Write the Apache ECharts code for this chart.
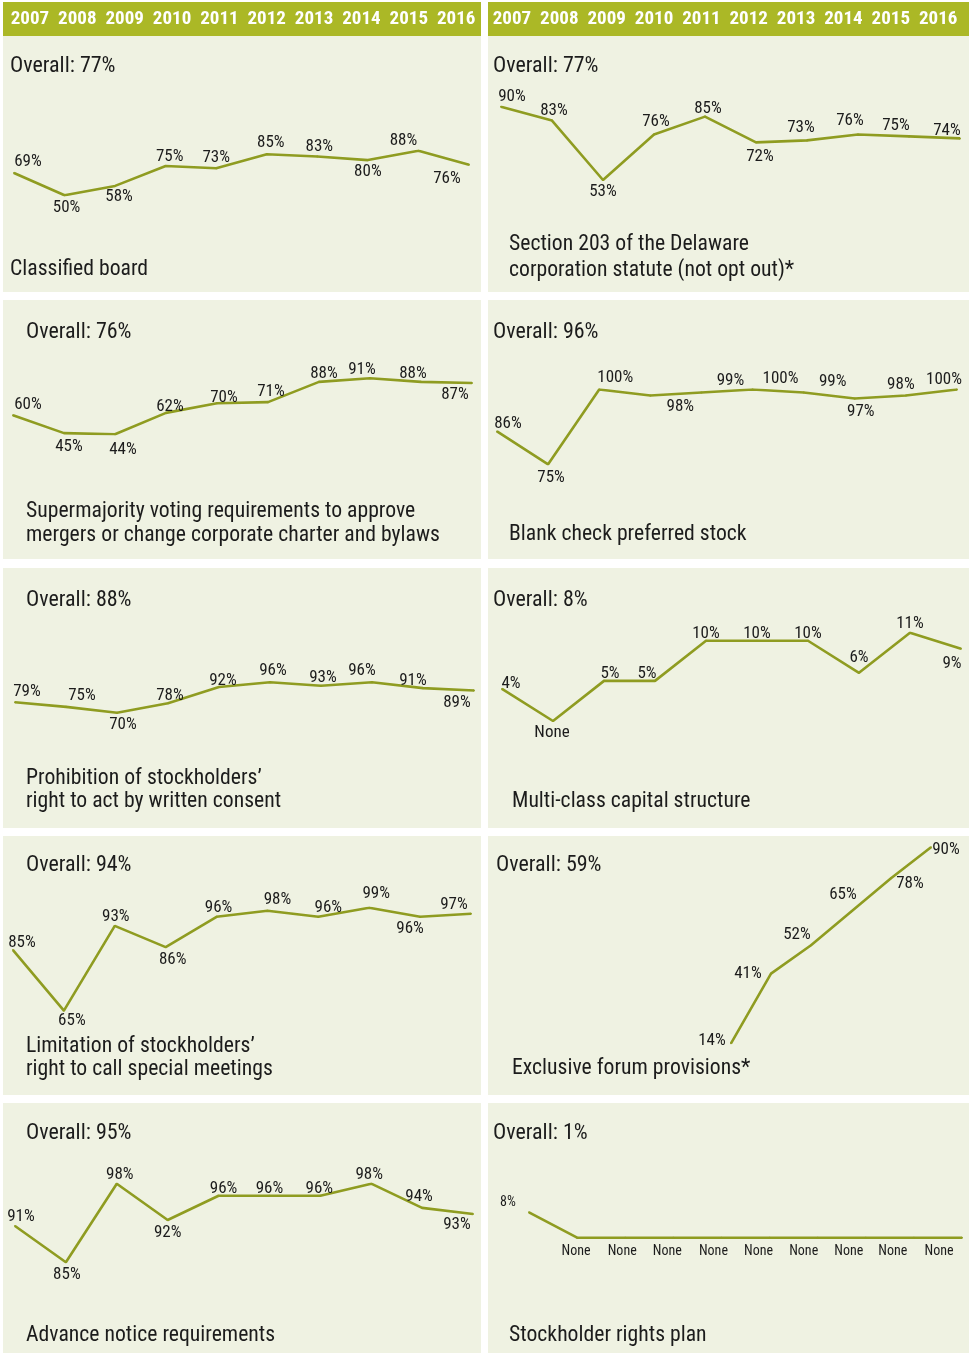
<!DOCTYPE html>
<html>
<head>
<meta charset="utf-8">
<script src="https://cdn.jsdelivr.net/npm/echarts@6/dist/echarts.min.js"></script>
<style>
  html, body { margin: 0; padding: 0; background: #ffffff; }
  #chart { width: 969px; height: 1353px; }
</style>
</head>
<body>
<div id="chart"></div>
<script>
// Adoption of takeover defences, 2007–2016 (share of companies, %)
const years = ['2007', '2008', '2009', '2010', '2011', '2012', '2013', '2014', '2015', '2016'];

const classifiedBoard   = [69, 50, 58, 75, 73, 85, 83, 80, 88, 76];
const section203        = [90, 83, 53, 76, 85, 72, 73, 76, 75, 74];
const supermajority     = [60, 45, 44, 62, 70, 71, 88, 91, 88, 87];
const blankCheck        = [86, 75, 100, 98, 99, 100, 99, 97, 98, 100];
const writtenConsent    = [79, 75, 70, 78, 92, 96, 93, 96, 91, 89];
const multiClass        = [4, 0, 5, 5, 10, 10, 10, 6, 11, 9];
const specialMeetings   = [85, 65, 93, 86, 96, 98, 96, 99, 96, 97];
const exclusiveForum    = [null, null, null, null, 14, 41, 52, 65, 78, 90];
const advanceNotice     = [91, 85, 98, 92, 96, 96, 96, 98, 94, 93];
const rightsPlan        = [8, 0, 0, 0, 0, 0, 0, 0, 0, 0];

const overall = [77, 77, 76, 96, 88, 8, 94, 59, 95, 1];

const provisionNames = [
  ['Classified board'],
  ['Section 203 of the Delaware', 'corporation statute (not opt out)*'],
  ['Supermajority voting requirements to approve', 'mergers or change corporate charter and bylaws'],
  ['Blank check preferred stock'],
  ['Prohibition of stockholders\u2019', 'right to act by written consent'],
  ['Multi-class capital structure'],
  ['Limitation of stockholders\u2019', 'right to call special meetings'],
  ['Exclusive forum provisions*'],
  ['Advance notice requirements'],
  ['Stockholder rights plan']
];

const seriesList = [classifiedBoard, section203, supermajority, blankCheck, writtenConsent,
                    multiClass, specialMeetings, exclusiveForum, advanceNotice, rightsPlan];

// ---- layout of the ten panels (pixel geometry and label placement) ----
const FONT = "'Liberation Sans Narrow', 'Roboto Condensed', 'DejaVu Sans Condensed', 'Liberation Sans', sans-serif";
const LINE = '#8f9c21';
const BAND = '#abb826';
const PANEL = '#eff2e2';
const INK = '#1c1c1c';
const TEXT_NUDGE = 2;   // optical centring of text on its cap height

const colX = [3, 488];
const colW = [478, 481];
const rowY = [[36, 292], [300, 559], [568, 828], [836, 1095], [1103, 1353]];

const panels = [
  { x0: 14,  x1: 469, top: 150.7, bot: 195.3, ov: [10, 64],   tx: 10,  ty: [268],
    lab: [[14,-13],[2,11],[4,9],[4,-11],[0,-12],[4,-13],[2,-11],[0,10],[-15,-11],[-22,12]] },
  { x0: 501, x1: 960, top: 106.7, bot: 180,   ov: [493, 64],  tx: 509, ty: [243, 269],
    lab: [[11,-11],[2,-11],[0,10],[2,-14],[3,-9],[4,13],[-6,-14],[-8,-15],[-13,-12],[-13,-9]] },
  { x0: 13,  x1: 472, top: 378.3, bot: 434.3, ov: [26, 330],  tx: 26,  ty: [510, 534],
    lab: [[15,-12],[5,12],[8,14],[4,-8],[7,-7],[3,-12],[5,-10],[-8,-10],[-8,-10],[-17,10]] },
  { x0: 497, x1: 957, top: 389.5, bot: 464.3, ov: [493, 330], tx: 509, ty: [533],
    lab: [[11,-9],[3,12],[16,-13],[30,10],[29,-13],[28,-12],[29,-12],[6,12],[-5,-12],[-13,-11]] },
  { x0: 15,  x1: 474, top: 682.3, bot: 712.7, ov: [26, 598],  tx: 26,  ty: [777, 800],
    lab: [[12,-12],[16,-13],[6,11],[2,-9],[4,-8],[3,-13],[2,-10],[-10,-13],[-10,-9],[-17,11]] },
  { x0: 502, x1: 961, top: 632.7, bot: 721,   ov: [493, 598], tx: 512, ty: [800],
    lab: [[9,-7],[-1,10],[6,-9],[-8,-9],[0,-8],[0,-8],[0,-8],[0,-17],[0,-10],[-9,13]] },
  { x0: 13,  x1: 471, top: 907.7, bot: 1010.7, ov: [26, 863], tx: 26,  ty: [1045, 1068],
    lab: [[9,-9],[8,9],[1,-11],[7,11],[2,-11],[10,-12],[10,-11],[7,-15],[-10,10],[-17,-11]] },
  { x0: 571, x1: 931, top: 847.3, bot: 1043.3, ov: [496, 863], tx: 512, ty: [1067],
    lab: [null,null,null,null,[-19,-4],[-23,-1],[-14,-12],[-8,-19],[19,4],[15,1]] },
  { x0: 15,  x1: 473, top: 1183.7, bot: 1262.3, ov: [26, 1131], tx: 26, ty: [1334],
    lab: [[6,-11],[1,11],[3,-10],[0,11],[5,-9],[0,-9],[-1,-9],[-2,-10],[-3,-13],[-16,9]] },
  { x0: 529, x1: 962, top: 1212.3, bot: 1237.7, ov: [493, 1131], tx: 509, ty: [1334], small: true,
    lab: [[-21,-11],[-1,12],[-3,12],[-6,12],[-8,12],[-11,12],[-14,12],[-17,12],[-21,12],[-23,12]] }
];

// ---- build option ----
const graphic = [];
const grid = [];
const xAxis = [];
const yAxis = [];
const series = [];

// header bands with the year axis
[0, 1].forEach(c => {
  graphic.push({ type: 'rect', z: -10, shape: { x: colX[c], y: 2, width: colW[c], height: 34 },
                 style: { fill: BAND } });
});
const headerLeft = [6.3, 488.3];
headerLeft.forEach((l, i) => {
  grid.push({ left: l, width: 473.5, top: 2, height: 17 });
  xAxis.push({ type: 'category', gridIndex: i, data: years, boundaryGap: true,
    axisLine: { show: false }, axisTick: { show: false }, splitLine: { show: false },
    axisLabel: { color: '#ffffff', fontFamily: FONT, fontWeight: 'bold', fontSize: 19,
                 margin: 0, verticalAlign: 'middle', interval: 0 } });
  yAxis.push({ type: 'value', gridIndex: i, show: false });
});

// panel backgrounds
rowY.forEach(([y0, y1]) => {
  [0, 1].forEach(c => {
    graphic.push({ type: 'rect', z: -10, shape: { x: colX[c], y: y0, width: colW[c], height: y1 - y0 },
                   style: { fill: PANEL } });
  });
});

panels.forEach((p, i) => {
  const data = seriesList[i];
  const vals = data.filter(v => v !== null);
  const g = grid.length;
  grid.push({ left: p.x0, width: p.x1 - p.x0, top: p.top, height: p.bot - p.top });
  xAxis.push({ type: 'category', gridIndex: g, data: years, boundaryGap: false, show: false });
  yAxis.push({ type: 'value', gridIndex: g, min: Math.min(...vals), max: Math.max(...vals),
               show: false, splitLine: { show: false } });

  series.push({
    type: 'line',
    xAxisIndex: g,
    yAxisIndex: g,
    data: data.map((v, k) => v === null ? null : {
      value: v,
      label: { offset: [p.lab[k][0], p.lab[k][1] + 1.5] }
    }),
    symbol: 'circle',
    symbolSize: 2,
    itemStyle: { color: LINE },
    lineStyle: { color: LINE, width: 2.6 },
    connectNulls: false,
    silent: true,
    label: {
      show: true,
      position: 'inside',
      color: INK,
      fontFamily: FONT,
      fontSize: p.small ? 14 : 17,
      formatter: d => d.value === 0 ? 'None' : d.value + '%'
    }
  });

  // headline share and provision name
  graphic.push({ type: 'text', x: p.ov[0], y: p.ov[1] + TEXT_NUDGE,
    style: { text: 'Overall: ' + overall[i] + '%', fill: INK, font: '22px ' + FONT, verticalAlign: 'middle' } });
  provisionNames[i].forEach((line, j) => {
    graphic.push({ type: 'text', x: p.tx, y: p.ty[j] + TEXT_NUDGE,
      style: { text: line, fill: INK, font: '21.7px ' + FONT, verticalAlign: 'middle' } });
  });
});

const chart = echarts.init(document.getElementById('chart'), null, { renderer: 'canvas' });
chart.setOption({
  animation: false,
  backgroundColor: '#ffffff',
  graphic: graphic,
  grid: grid,
  xAxis: xAxis,
  yAxis: yAxis,
  series: series
});
</script>
</body>
</html>
